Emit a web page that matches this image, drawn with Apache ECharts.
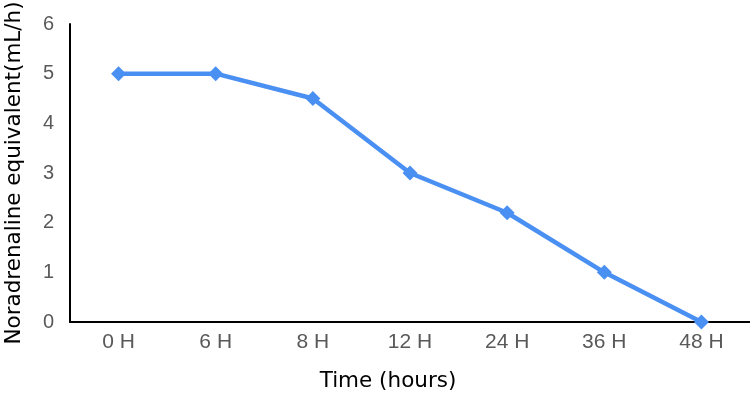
<!DOCTYPE html>
<html>
<head>
<meta charset="utf-8">
<script src="https://cdn.jsdelivr.net/npm/echarts@6/dist/echarts.min.js"></script>
<style>
  html, body { margin: 0; padding: 0; background: #fff; }
  #container { width: 750px; height: 395px; }
</style>
</head>
<body>
<div id="container"></div>
<script>
var timePoints = ['0 H', '6 H', '8 H', '12 H', '24 H', '36 H', '48 H'];
var noradValues = [5, 5, 4.5, 3, 2.2, 1, 0];
var yTicks = [0, 1, 2, 3, 4, 5, 6];

var myChart = echarts.init(document.getElementById('container'));
var option = {
  animation: false,
  grid: { left: 70, right: 0, top: 24, bottom: 73, outerBoundsMode: 'none' },
  xAxis: {
    type: 'category',
    data: timePoints,
    name: 'Time (hours)',
    nameLocation: 'middle',
    nameGap: 48,
    nameTextStyle: { fontFamily: 'DejaVu Sans', fontSize: 21.5, color: '#000', padding: [0, 44, 0, 0] },
    axisLine: { lineStyle: { color: '#000', width: 2 } },
    axisTick: { show: false },
    axisLabel: { fontFamily: 'Liberation Sans', fontSize: 21, color: '#595959', margin: 10 }
  },
  yAxis: {
    type: 'value',
    min: yTicks[0],
    max: yTicks[yTicks.length - 1],
    interval: 1,
    name: 'Noradrenaline equivalent(mL/h)',
    nameLocation: 'middle',
    nameGap: 45,
    nameTextStyle: { fontFamily: 'DejaVu Sans', fontSize: 21.5, color: '#000' },
    axisLine: { show: true, lineStyle: { color: '#000', width: 2 } },
    axisTick: { show: false },
    splitLine: { show: false },
    axisLabel: { fontFamily: 'Liberation Sans', fontSize: 20, color: '#595959', margin: 16 }
  },
  series: [{
    type: 'line',
    data: noradValues,
    symbol: 'diamond',
    symbolSize: 15,
    lineStyle: { color: '#4a8ff2', width: 4.5 },
    itemStyle: { color: '#4a8ff2' }
  }]
};
myChart.setOption(option);
</script>
</body>
</html>
